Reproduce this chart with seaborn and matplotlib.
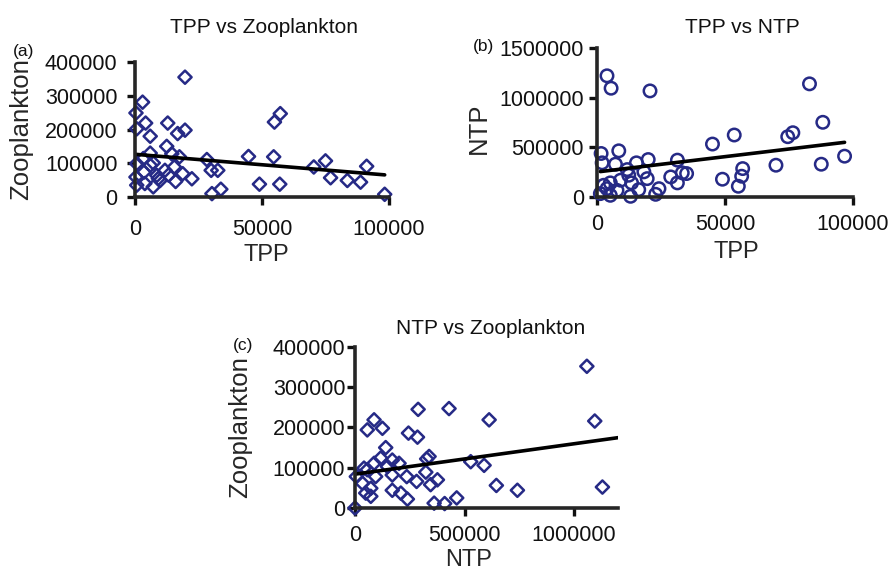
import numpy as np
import pandas as pd
import seaborn as sns
import matplotlib.pyplot as plt

# values (x1000)
a_tpp = [19.7, 3.0, 0.4, 4.2, 0.7, 6.0, 12.9, 16.8, 19.7, 54.9, 57.2, 12.5, 6.0, 3.3, 0.7, 6.0,
         14.5, 17.5, 28.3, 44.7, 54.6, 75.0, 70.4, 91.2, 0.4, 3.6, 8.6, 11.8, 15.5, 16.0, 18.8,
         22.4, 30.0, 32.6, 77.0, 83.6, 88.8, 0.7, 3.9, 7.2, 49.0, 57.0, 30.3, 33.8, 98.3, 9.9,
         7.2, 9.2, 13.2]
a_zoo = [355, 281, 249, 219, 202, 180, 219, 188, 198, 222, 247, 150, 130, 114, 99, 94,
         128, 119, 111, 120, 119, 107, 89, 91, 59, 74, 64, 79, 89, 46, 69,
         54, 79, 79, 57, 49, 44, 35, 40, 30, 38, 38, 10, 23, 8, 49,
         101, 55, 65]

b_tpp = [3.9, 5.5, 20.7, 83.0, 88.2, 74.5, 76.5, 53.6, 45.1, 1.6, 8.5, 2.0, 7.2, 15.4, 20.0,
         31.4, 11.8, 18.3, 28.8, 33.3, 35.0, 31.4, 49.0, 56.9, 56.5, 55.2, 69.9, 87.6, 96.7,
         2.6, 5.2, 9.2, 13.5, 16.3, 5.2, 7.8, 13.1, 22.9, 24.2, 1.3, 3.9, 19.6, 12.4]
b_ntp = [1220, 1095, 1068, 1139, 752, 607, 647, 624, 533, 438, 465, 344, 330, 344, 377,
         371, 276, 253, 202, 243, 236, 142, 179, 286, 209, 108, 320, 330, 411,
         118, 142, 169, 142, 74, 17, 67, 7, 27, 84, 34, 84, 185, 219]

c_ntp = [1058, 1094, 1129, 288, 429, 612, 741, 645, 589, 528, 87, 56, 125, 244, 285, 140,
         338, 327, 201, 117, 87, 56, 6, 170, 236, 281, 323, 376, 345, 33, 72, 49, 72, 170,
         209, 239, 361, 409, 464, 0, 170, 148, 94, 41]
c_zoo = [352, 216, 52, 245, 247, 219, 44, 56, 106, 115, 219, 194, 198, 186, 176, 150,
         128, 122, 111, 124, 111, 95, 78, 82, 78, 66, 89, 70, 58, 62, 49, 37, 29, 44,
         37, 22, 12, 11, 25, 0, 119, 103, 78, 99]

zoo_ticks = [0, 100000, 200000, 300000, 400000]
tpp_ticks = [0, 50000, 100000]
ntp_ticks_y = [0, 500000, 1000000, 1500000]
ntp_ticks_x = [0, 500000, 1000000]

navy = '#262a86'

sns.set_style('ticks')
plt.rcParams['font.family'] = ['Liberation Sans', 'DejaVu Sans']
plt.rcParams['text.color'] = '#111111'

df_a = pd.DataFrame({'TPP': np.array(a_tpp) * 1000, 'Zooplankton': np.array(a_zoo) * 1000})
df_b = pd.DataFrame({'TPP': np.array(b_tpp) * 1000, 'NTP': np.array(b_ntp) * 1000})
df_c = pd.DataFrame({'NTP': np.array(c_ntp) * 1000, 'Zooplankton': np.array(c_zoo) * 1000})

fig = plt.figure(figsize=(8.92, 5.72), dpi=100)
ax_a = fig.add_axes([0.1513, 0.6556, 0.2848, 0.2360])
ax_b = fig.add_axes([0.6693, 0.6556, 0.2870, 0.2605])
ax_c = fig.add_axes([0.3980, 0.1119, 0.2948, 0.2815])


def style(ax, xticks, yticks, xpad, ypad):
    ax.set_xticks(xticks)
    ax.set_xticklabels([str(t) for t in xticks])
    ax.set_yticks(yticks)
    ax.set_yticklabels([str(t) for t in yticks])
    sns.despine(ax=ax)
    for s in ['left', 'bottom']:
        ax.spines[s].set_linewidth(2.6)
    ax.tick_params(width=2.4, length=6, labelsize=15.5, colors='#111111')
    ax.tick_params(axis='x', pad=xpad)
    ax.tick_params(axis='y', pad=ypad)
    ax.patch.set_alpha(0)


def labels(ax, xlabel, ylabel, xl, yl, title, tx, tpad, letter, lx, ly):
    ax.set_xlabel(xlabel, fontsize=17)
    ax.xaxis.set_label_coords(xl[0], xl[1])
    ax.set_ylabel(ylabel, fontsize=18.5)
    ax.yaxis.set_label_coords(yl[0], yl[1])
    ax.set_title(title, fontsize=15, x=tx, pad=tpad)
    ax.text(lx, ly, letter, transform=ax.transAxes, fontsize=12.5, ha='left', va='center')


# (a)
sns.regplot(data=df_a, x='TPP', y='Zooplankton', ax=ax_a, ci=None, marker='D',
            scatter_kws={'facecolors': 'none', 'edgecolors': navy, 's': 45, 'linewidths': 1.8,
                         'alpha': 1, 'clip_on': False},
            line_kws={'color': 'black', 'lw': 2.6})
style(ax_a, tpp_ticks, zoo_ticks, 9.5, 6.5)
ax_a.set_xlim(0, 100000)
ax_a.set_ylim(0, 400000)
labels(ax_a, 'TPP', 'Zooplankton', (0.518, -0.348), (-0.40, 0.5),
       'TPP vs Zooplankton', 0.508, 21, '(a)', -0.482, 1.081)

# (b)
sns.regplot(data=df_b, x='TPP', y='NTP', ax=ax_b, ci=None, marker='o',
            scatter_kws={'facecolors': 'none', 'edgecolors': navy, 's': 80, 'linewidths': 1.8,
                         'alpha': 1, 'clip_on': False},
            line_kws={'color': 'black', 'lw': 2.6})
style(ax_b, tpp_ticks, ntp_ticks_y, 6, 3.5)
ax_b.set_xlim(0, 100000)
ax_b.set_ylim(0, 1500000)
labels(ax_b, 'TPP', 'NTP', (0.543, -0.295), (-0.415, 0.463),
       'TPP vs NTP', 0.566, 11, '(b)', -0.484, 1.007)

# (c)
ax_c.set_xlim(0, 1200000)
sns.regplot(data=df_c, x='NTP', y='Zooplankton', ax=ax_c, ci=None, marker='D', truncate=False,
            scatter_kws={'facecolors': 'none', 'edgecolors': navy, 's': 45, 'linewidths': 1.8,
                         'alpha': 1, 'clip_on': False},
            line_kws={'color': 'black', 'lw': 2.6})
style(ax_c, ntp_ticks_x, zoo_ticks, 6, 1)
ax_c.set_xlim(0, 1200000)
ax_c.set_ylim(0, 400000)
labels(ax_c, 'NTP', 'Zooplankton', (0.43, -0.255), (-0.392, 0.5),
       'NTP vs Zooplankton', 0.517, 9, '(c)', -0.464, 1.012)

fig.savefig('out.png', dpi=100)
